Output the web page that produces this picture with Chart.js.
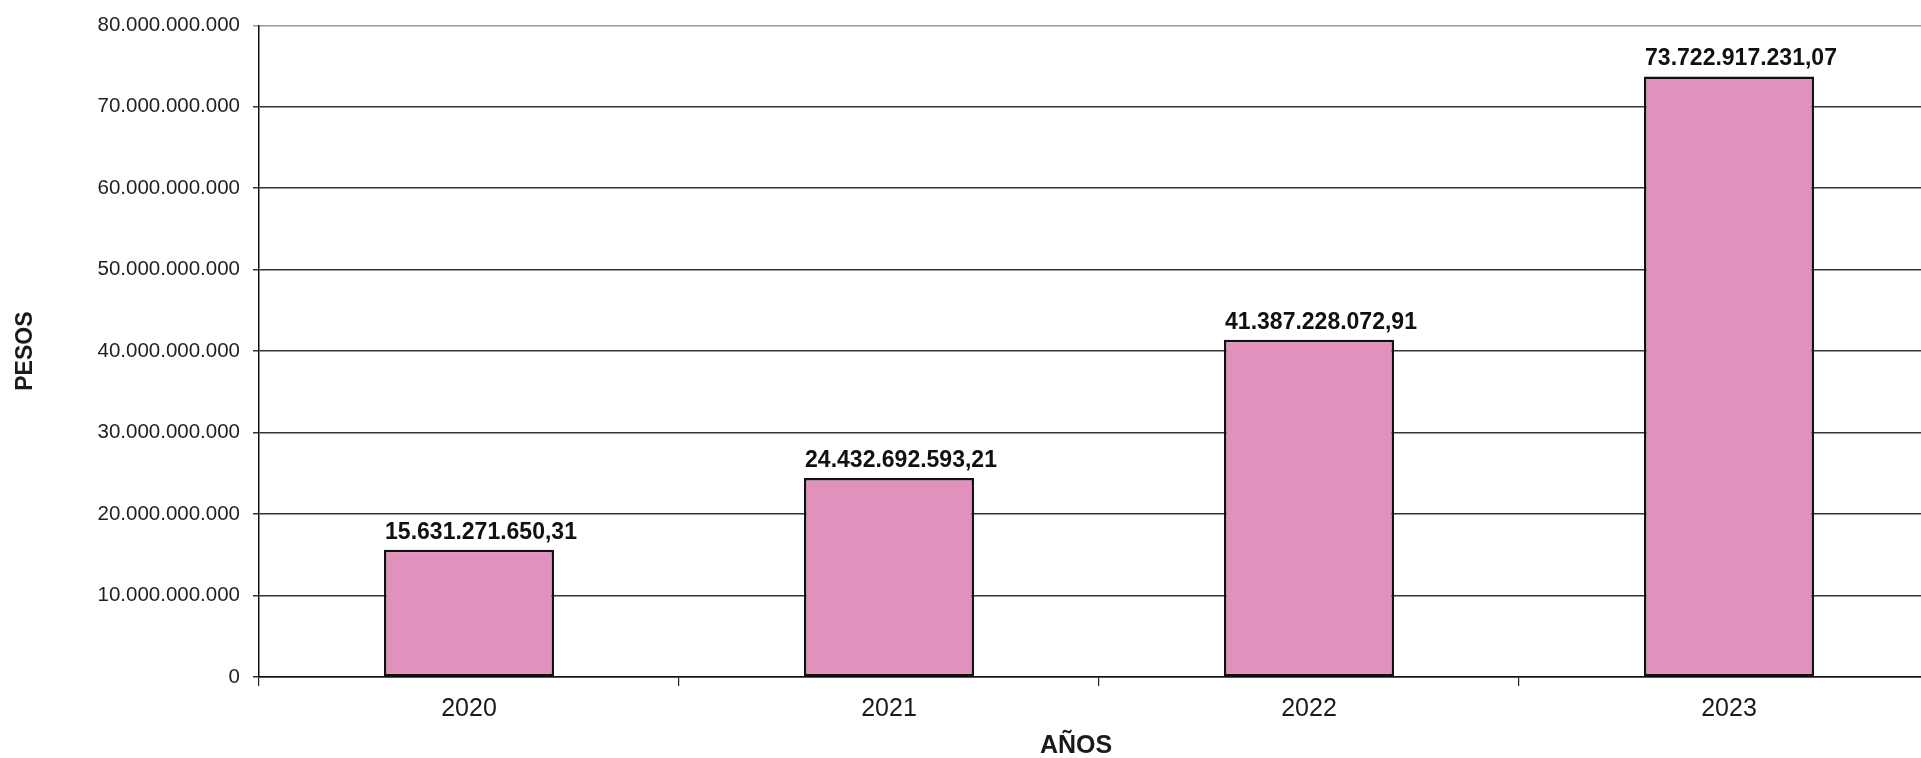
<!DOCTYPE html>
<html>
<head>
<meta charset="utf-8">
<style>
  html, body { margin: 0; padding: 0; background: #ffffff; overflow: hidden; }
  #wrap { width: 1921px; height: 758px; position: relative; overflow: hidden; }
  #c { position: absolute; left: 0; top: 0; }
</style>
<script src="https://cdn.jsdelivr.net/npm/chart.js@4.4.1/dist/chart.umd.min.js"></script>
</head>
<body>
<div id="wrap"><canvas id="c" width="1939" height="758"></canvas></div>
<script>
const categories = ['2020', '2021', '2022', '2023'];
const values = [15631271650.31, 24432692593.21, 41387228072.91, 73722917231.07];
const yTicks = [0, 10000000000, 20000000000, 30000000000, 40000000000, 50000000000, 60000000000, 70000000000, 80000000000];
const xTitle = 'AÑOS';
const yTitle = 'PESOS';

const FONT = "'Liberation Sans', Arial, sans-serif";

function groupThousands(intStr) {
  return intStr.replace(/\B(?=(\d{3})+(?!\d))/g, '.');
}
function fmtInt(v) { return groupThousands(Math.round(v).toString()); }
function fmtDec(v) {
  const s = v.toFixed(2).split('.');
  return groupThousands(s[0]) + ',' + s[1];
}

const valueLabels = {
  id: 'valueLabels',
  afterDatasetsDraw(chart) {
    const ctx = chart.ctx;
    const meta = chart.getDatasetMeta(0);
    ctx.save();
    ctx.font = "bold 23px " + FONT;
    ctx.fillStyle = '#111';
    ctx.textAlign = 'center';
    ctx.textBaseline = 'alphabetic';
    meta.data.forEach((bar, i) => {
      ctx.fillText(fmtDec(values[i]), bar.x + 12, bar.y - 11);
    });
    ctx.restore();
  }
};

const xAxisTitle = {
  id: 'xAxisTitle',
  afterDraw(chart) {
    const ctx = chart.ctx;
    const area = chart.chartArea;
    ctx.save();
    ctx.font = "bold 25px " + FONT;
    ctx.fillStyle = '#1a1a1a';
    ctx.textAlign = 'center';
    ctx.textBaseline = 'alphabetic';
    ctx.fillText(xTitle, (area.left + 1921) / 2 - 14, area.bottom + 76);
    ctx.restore();
  }
};

new Chart(document.getElementById('c'), {
  type: 'bar',
  data: {
    labels: categories,
    datasets: [{
      data: values,
      backgroundColor: '#E291BD',
      borderColor: '#111111',
      borderWidth: 2.5,
      borderSkipped: false,
      barPercentage: 0.405,
      categoryPercentage: 1.0
    }]
  },
  options: {
    responsive: false,
    animation: false,
    devicePixelRatio: 1,
    layout: { padding: { top: 21, right: 0, bottom: 0, left: 0 } },
    plugins: {
      legend: { display: false },
      tooltip: { enabled: false }
    },
    scales: {
      x: {
        offset: true,
        grid: {
          offset: true,
          drawOnChartArea: false,
          drawTicks: true,
          tickLength: 9,
          color: '#222',
          lineWidth: 1.2
        },
        border: { display: true, color: '#111', width: 1.5 },
        ticks: {
          color: '#1a1a1a',
          font: { family: FONT, size: 25 },
          padding: 8,
          maxRotation: 0
        },
        title: { display: false },
        afterFit(scale) { scale.height = 81; }
      },
      y: {
        min: 0,
        max: 80000000000,
        afterBuildTicks(scale) { scale.ticks = yTicks.map(v => ({ value: v })); },
        grid: {
          color: (c) => (c.tick && c.tick.value === 80000000000) ? '#9a9a9a' : '#333333',
          lineWidth: 1.5,
          drawTicks: true,
          tickLength: 6
        },
        border: { display: true, color: '#111', width: 1.5 },
        ticks: {
          color: '#1f1f1f',
          font: { family: FONT, size: 20.5 },
          padding: 13,
          callback: (v) => fmtInt(v)
        },
        title: {
          display: true,
          text: yTitle,
          color: '#1a1a1a',
          font: { family: FONT, size: 23, weight: 'bold', lineHeight: 1.2 },
          padding: { top: 12, bottom: 0 }
        },
        afterFit(scale) { scale.width = 259; }
      }
    }
  },
  plugins: [valueLabels, xAxisTitle]
});
</script>
</body>
</html>
